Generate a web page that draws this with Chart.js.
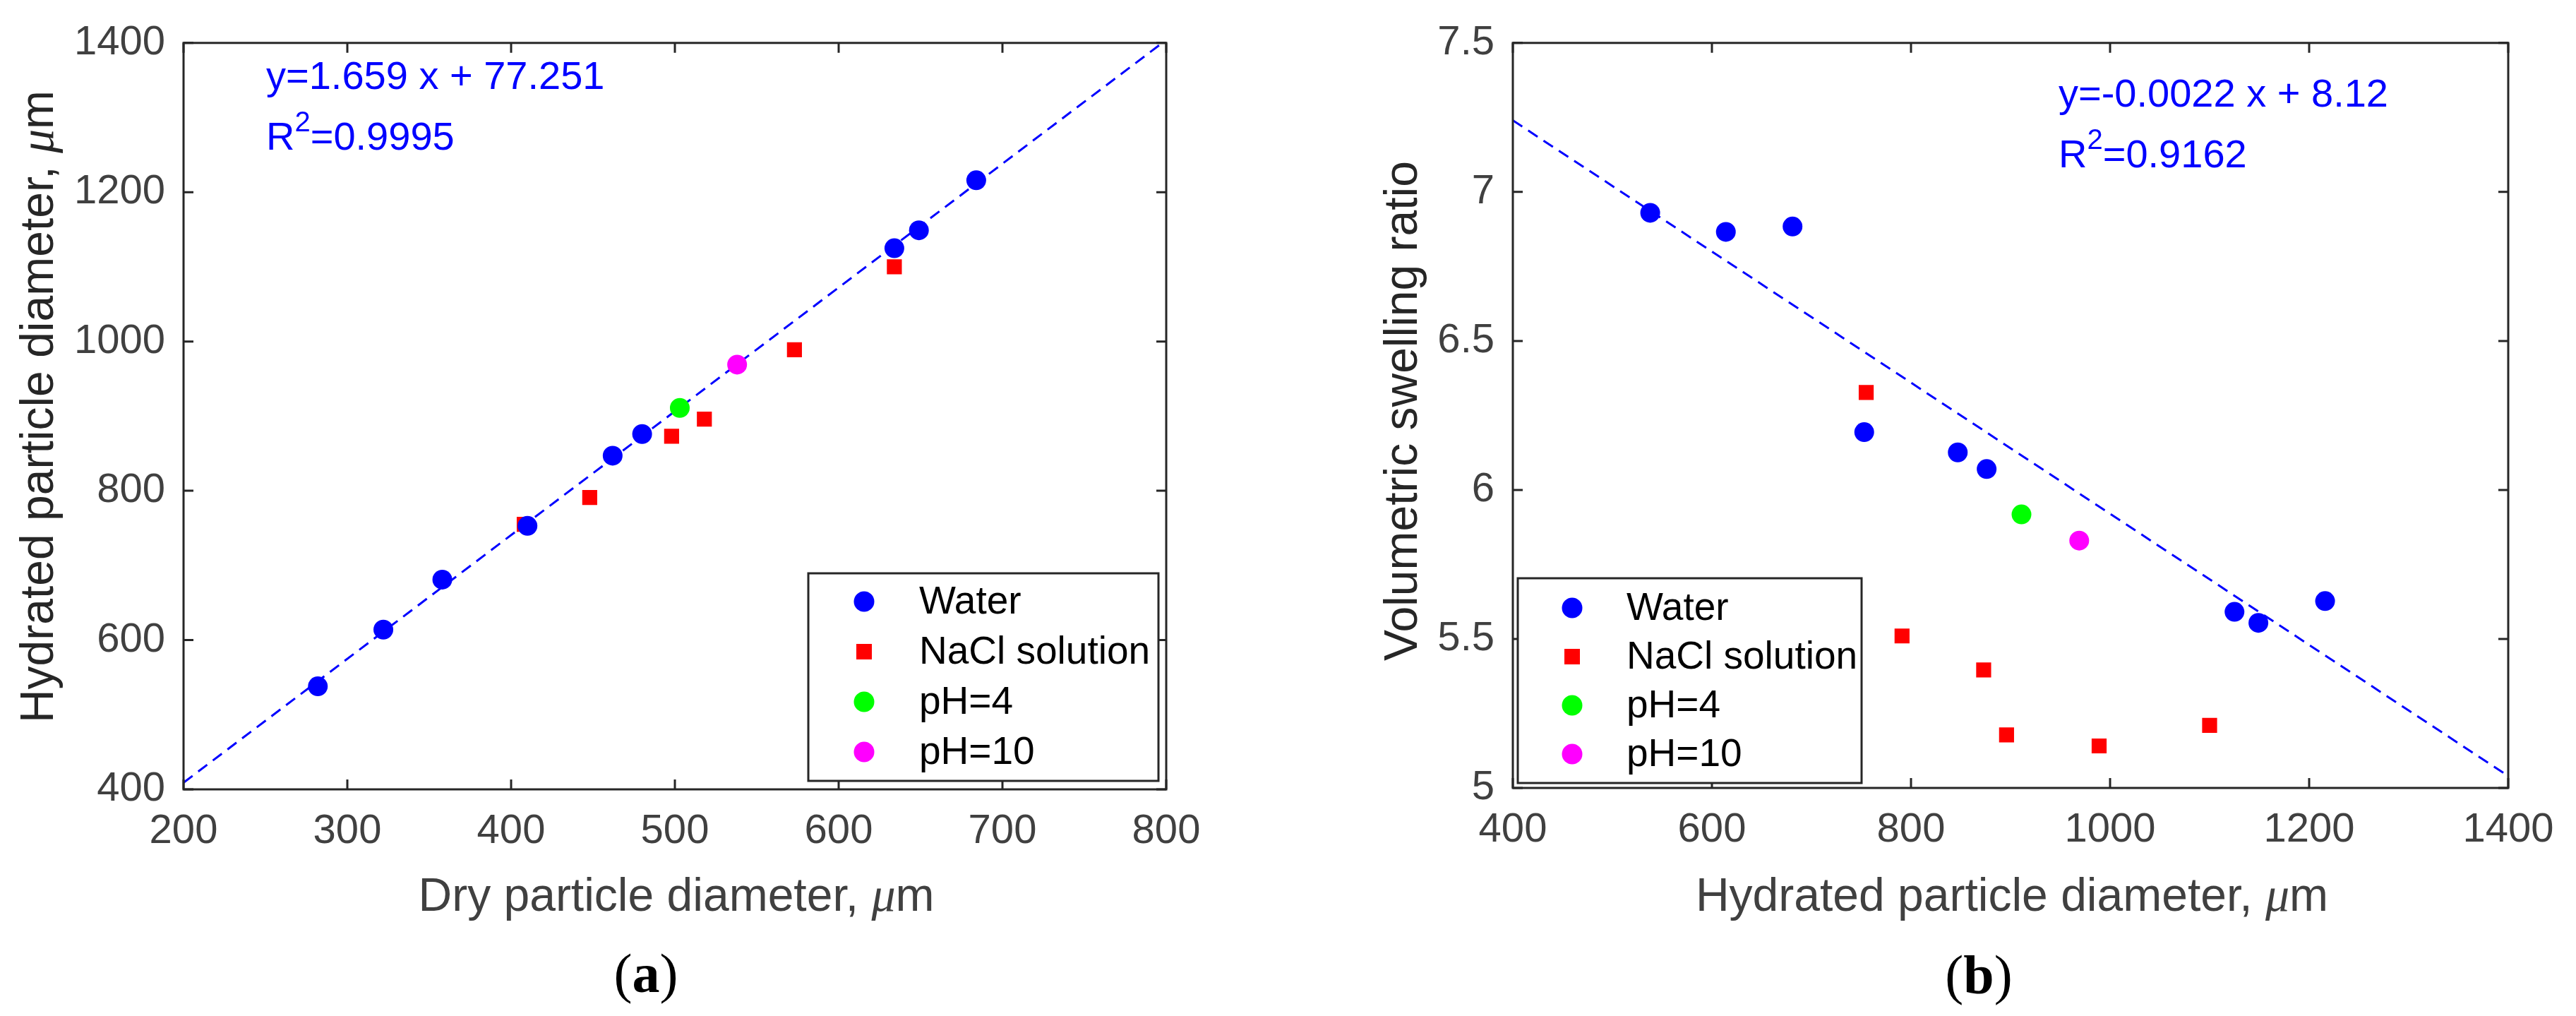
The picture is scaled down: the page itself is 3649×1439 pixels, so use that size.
<!DOCTYPE html>
<html>
<head>
<meta charset="utf-8">
<script src="https://cdn.jsdelivr.net/npm/chart.js@4.4.1/dist/chart.umd.min.js"></script>
<style>
  html, body { margin: 0; padding: 0; background: #fff; overflow: hidden; }
  #page { position: relative; width: 3649px; height: 1439px; }
  .panel { position: absolute; top: 0; height: 1439px; }
</style>
</head>
<body>
<div id="page">
  <div class="panel" style="left:0;width:1824px"><canvas id="chartA"></canvas></div>
  <div class="panel" style="left:1824px;width:1825px"><canvas id="chartB"></canvas></div>
</div>
<script>
// ---- data ----
// (a) dry vs hydrated diameter, um
const waterDry = [282, 322, 358, 410, 462, 480, 634, 649, 684];
const waterHyd = [538, 614, 681, 753, 847, 876, 1125, 1149, 1216];
const naclDry = [408, 448, 498, 518, 573, 634];
const naclHyd = [755, 791, 873, 896, 989, 1100];
const ph4Dry = [503];
const ph4Hyd = [911];
const ph10Dry = [538];
const ph10Hyd = [969];

// (b) volumetric swelling ratio vs hydrated diameter
const waterRatio = [6.93, 6.866, 6.884, 6.194, 6.126, 6.07, 5.591, 5.554, 5.627];
const naclRatio = [6.327, 5.51, 5.396, 5.178, 5.141, 5.21];
const ph4Ratio = [5.918];
const ph10Ratio = [5.83];

// fitted lines (ends at the axis limits)
const fitAx = [200, 800];
const fitAy = [409, 1404];
const fitBx = [400, 1400];
const fitBy = [7.24, 5.04];

// axis ticks
const xTicksA = [200, 300, 400, 500, 600, 700, 800];
const yTicksA = [400, 600, 800, 1000, 1200, 1400];
const xTicksB = [400, 600, 800, 1000, 1200, 1400];
const yTicksB = [5, 5.5, 6, 6.5, 7, 7.5];

const seriesNames = ['Water', 'NaCl solution', 'pH=4', 'pH=10'];
const seriesColors = ['#0000ff', '#ff0000', '#00ff00', '#ff00ff'];
const seriesShapes = ['circle', 'rect', 'circle', 'circle'];

const H = 1439;
const TICK = 14;
const SANS = "'Liberation Sans', Arial, sans-serif";
const SERIF = "'Liberation Serif', 'Times New Roman', serif";

Chart.defaults.font.family = SANS;

function toPoints(xs, ys) {
  return xs.map((x, i) => ({ x: x, y: ys[i] }));
}

function drawRuns(ctx, runs, x, y, align) {
  let w = 0;
  runs.forEach(r => { ctx.font = r.font; r.w = ctx.measureText(r.text).width; w += r.w; });
  let cx = align === 'center' ? x - w / 2 : x;
  runs.forEach(r => {
    ctx.font = r.font;
    ctx.fillText(r.text, cx, y - (r.rise || 0));
    cx += r.w;
  });
}

const panelPlugin = {
  id: 'panel',
  afterDraw(chart, args, o) {
    const ctx = chart.ctx, a = chart.chartArea;
    const xs = chart.scales.x, ys = chart.scales.y;
    ctx.save();

    // box with inward ticks on all sides
    ctx.strokeStyle = '#262626';
    ctx.lineWidth = 3;
    ctx.strokeRect(a.left, a.top, a.right - a.left, a.bottom - a.top);
    ctx.beginPath();
    xs.ticks.forEach(t => {
      const px = xs.getPixelForValue(t.value);
      ctx.moveTo(px, a.bottom); ctx.lineTo(px, a.bottom - TICK);
      ctx.moveTo(px, a.top); ctx.lineTo(px, a.top + TICK);
    });
    ys.ticks.forEach(t => {
      const py = ys.getPixelForValue(t.value);
      ctx.moveTo(a.left, py); ctx.lineTo(a.left + TICK, py);
      ctx.moveTo(a.right, py); ctx.lineTo(a.right - TICK, py);
    });
    ctx.stroke();

    ctx.textAlign = 'left';
    ctx.textBaseline = 'alphabetic';

    // fit equation
    ctx.fillStyle = '#0000ff';
    drawRuns(ctx, [{ text: o.eq.line1, font: '56px ' + SANS }], o.eq.x, o.eq.y1, 'left');
    drawRuns(ctx, [
      { text: 'R', font: '56px ' + SANS },
      { text: '2', font: '40px ' + SANS, rise: 26 },
      { text: o.eq.r2, font: '56px ' + SANS }
    ], o.eq.x, o.eq.y2, 'left');

    // axis titles
    ctx.fillStyle = '#404040';
    drawRuns(ctx, [
      { text: o.xTitle.text, font: '66px ' + SANS },
      { text: '\u03bc', font: 'italic 68px ' + SERIF },
      { text: 'm', font: '66px ' + SANS }
    ], o.xTitle.x, o.xTitle.y, 'center');

    ctx.save();
    ctx.fillStyle = '#262626';
    ctx.translate(o.yTitle.x, o.yTitle.y);
    ctx.rotate(-Math.PI / 2);
    const yRuns = [{ text: o.yTitle.text, font: '66px ' + SANS }];
    if (o.yTitle.unit) {
      yRuns.push({ text: '\u03bc', font: 'italic 68px ' + SERIF });
      yRuns.push({ text: 'm', font: '66px ' + SANS });
    }
    drawRuns(ctx, yRuns, 0, 0, 'center');
    ctx.restore();

    // legend
    const L = o.legend;
    ctx.fillStyle = '#fff';
    ctx.fillRect(L.x0, L.y0, L.x1 - L.x0, L.y1 - L.y0);
    ctx.strokeStyle = '#262626';
    ctx.lineWidth = 3;
    ctx.strokeRect(L.x0, L.y0, L.x1 - L.x0, L.y1 - L.y0);
    ctx.textBaseline = 'middle';
    ctx.font = '55px ' + SANS;
    chart.data.datasets.filter(d => !d.isFit).forEach((d, i) => {
      const cy = L.rows[i];
      ctx.fillStyle = d.backgroundColor;
      if (d.pointStyle === 'rect') {
        ctx.fillRect(L.markerX - 11, cy - 11, 22, 22);
      } else {
        ctx.beginPath();
        ctx.arc(L.markerX, cy, 14.5, 0, Math.PI * 2);
        ctx.fill();
      }
      ctx.fillStyle = '#000';
      ctx.fillText(d.label, L.textX, cy + 2);
    });

    // panel caption
    ctx.textBaseline = 'alphabetic';
    ctx.fillStyle = '#000';
    drawRuns(ctx, [
      { text: '(', font: '78px ' + SERIF },
      { text: o.caption.text, font: 'bold 78px ' + SERIF },
      { text: ')', font: '78px ' + SERIF }
    ], o.caption.x, o.caption.y, 'center');

    ctx.restore();
  }
};

function makeDatasets(xsList, ysList, fitX, fitY) {
  const sets = seriesNames.map((name, i) => ({
    label: name,
    data: toPoints(xsList[i], ysList[i]),
    backgroundColor: seriesColors[i],
    pointStyle: seriesShapes[i],
    pointRadius: seriesShapes[i] === 'rect' ? 15 : 14,
    pointHoverRadius: seriesShapes[i] === 'rect' ? 15 : 14,
    pointBorderWidth: 0,
    showLine: false
  }));
  sets.push({
    label: 'fit',
    isFit: true,
    data: toPoints(fitX, fitY),
    showLine: true,
    borderColor: '#0000ff',
    borderWidth: 3,
    borderDash: [16, 10],
    pointRadius: 0,
    fill: false
  });
  return sets;
}

function makeOptions(cfg, width) {
  const tickFont = { size: 58, family: SANS };
  return {
    responsive: true,
    maintainAspectRatio: false,
    animation: false,
    devicePixelRatio: 1,
    events: [],
    layout: { padding: { top: cfg.area.top, right: width - cfg.area.right, left: 0, bottom: 0 } },
    plugins: {
      legend: { display: false },
      tooltip: { enabled: false },
      panel: cfg
    },
    scales: {
      x: {
        type: 'linear',
        min: cfg.xTicks[0],
        max: cfg.xTicks[cfg.xTicks.length - 1],
        afterBuildTicks: s => { s.ticks = cfg.xTicks.map(v => ({ value: v })); },
        afterFit: s => { s.height = H - cfg.area.bottom; },
        grid: { display: false, drawTicks: false },
        border: { display: false },
        ticks: { font: tickFont, color: '#404040', padding: 25, maxRotation: 0, autoSkip: false,
                 callback: v => String(v) }
      },
      y: {
        type: 'linear',
        min: cfg.yTicks[0],
        max: cfg.yTicks[cfg.yTicks.length - 1],
        afterBuildTicks: s => { s.ticks = cfg.yTicks.map(v => ({ value: v })); },
        afterFit: s => { s.width = cfg.area.left; },
        grid: { display: false, drawTicks: false },
        border: { display: false },
        ticks: { font: tickFont, color: '#404040', padding: 26, autoSkip: false,
                 callback: v => String(v) }
      }
    }
  };
}

// (a)
new Chart(document.getElementById('chartA'), {
  type: 'scatter',
  data: {
    datasets: makeDatasets([waterDry, naclDry, ph4Dry, ph10Dry],
                           [waterHyd, naclHyd, ph4Hyd, ph10Hyd], fitAx, fitAy)
  },
  options: makeOptions({
    area: { left: 260, right: 1652, top: 39, bottom: 1118 },
    xTicks: xTicksA,
    yTicks: yTicksA,
    eq: { x: 377, y1: 126, y2: 212, line1: 'y=1.659 x + 77.251', r2: '=0.9995' },
    xTitle: { text: 'Dry particle diameter, ', x: 958, y: 1290 },
    yTitle: { text: 'Hydrated particle diameter, ', unit: true, x: 75, y: 576 },
    legend: { x0: 1145, x1: 1641, y0: 812, y1: 1106, markerX: 1224, textX: 1302, rows: [852, 923, 994, 1065] },
    caption: { text: 'a', x: 915, y: 1405 }
  }, 1824),
  plugins: [panelPlugin]
});

// (b)
new Chart(document.getElementById('chartB'), {
  type: 'scatter',
  data: {
    datasets: makeDatasets([waterHyd, naclHyd, ph4Hyd, ph10Hyd],
                           [waterRatio, naclRatio, ph4Ratio, ph10Ratio], fitBx, fitBy)
  },
  options: makeOptions({
    area: { left: 319, right: 1729, top: 41, bottom: 1116 },
    xTicks: xTicksB,
    yTicks: yTicksB,
    eq: { x: 1092, y1: 151, y2: 237, line1: 'y=-0.0022 x + 8.12', r2: '=0.9162' },
    xTitle: { text: 'Hydrated particle diameter, ', x: 1026, y: 1290 },
    yTitle: { text: 'Volumetric swelling ratio', unit: false, x: 183, y: 582 },
    legend: { x0: 326, x1: 813, y0: 819, y1: 1109, markerX: 403, textX: 480, rows: [861, 930, 999, 1068] },
    caption: { text: 'b', x: 979, y: 1407 }
  }, 1825),
  plugins: [panelPlugin]
});
</script>
</body>
</html>
